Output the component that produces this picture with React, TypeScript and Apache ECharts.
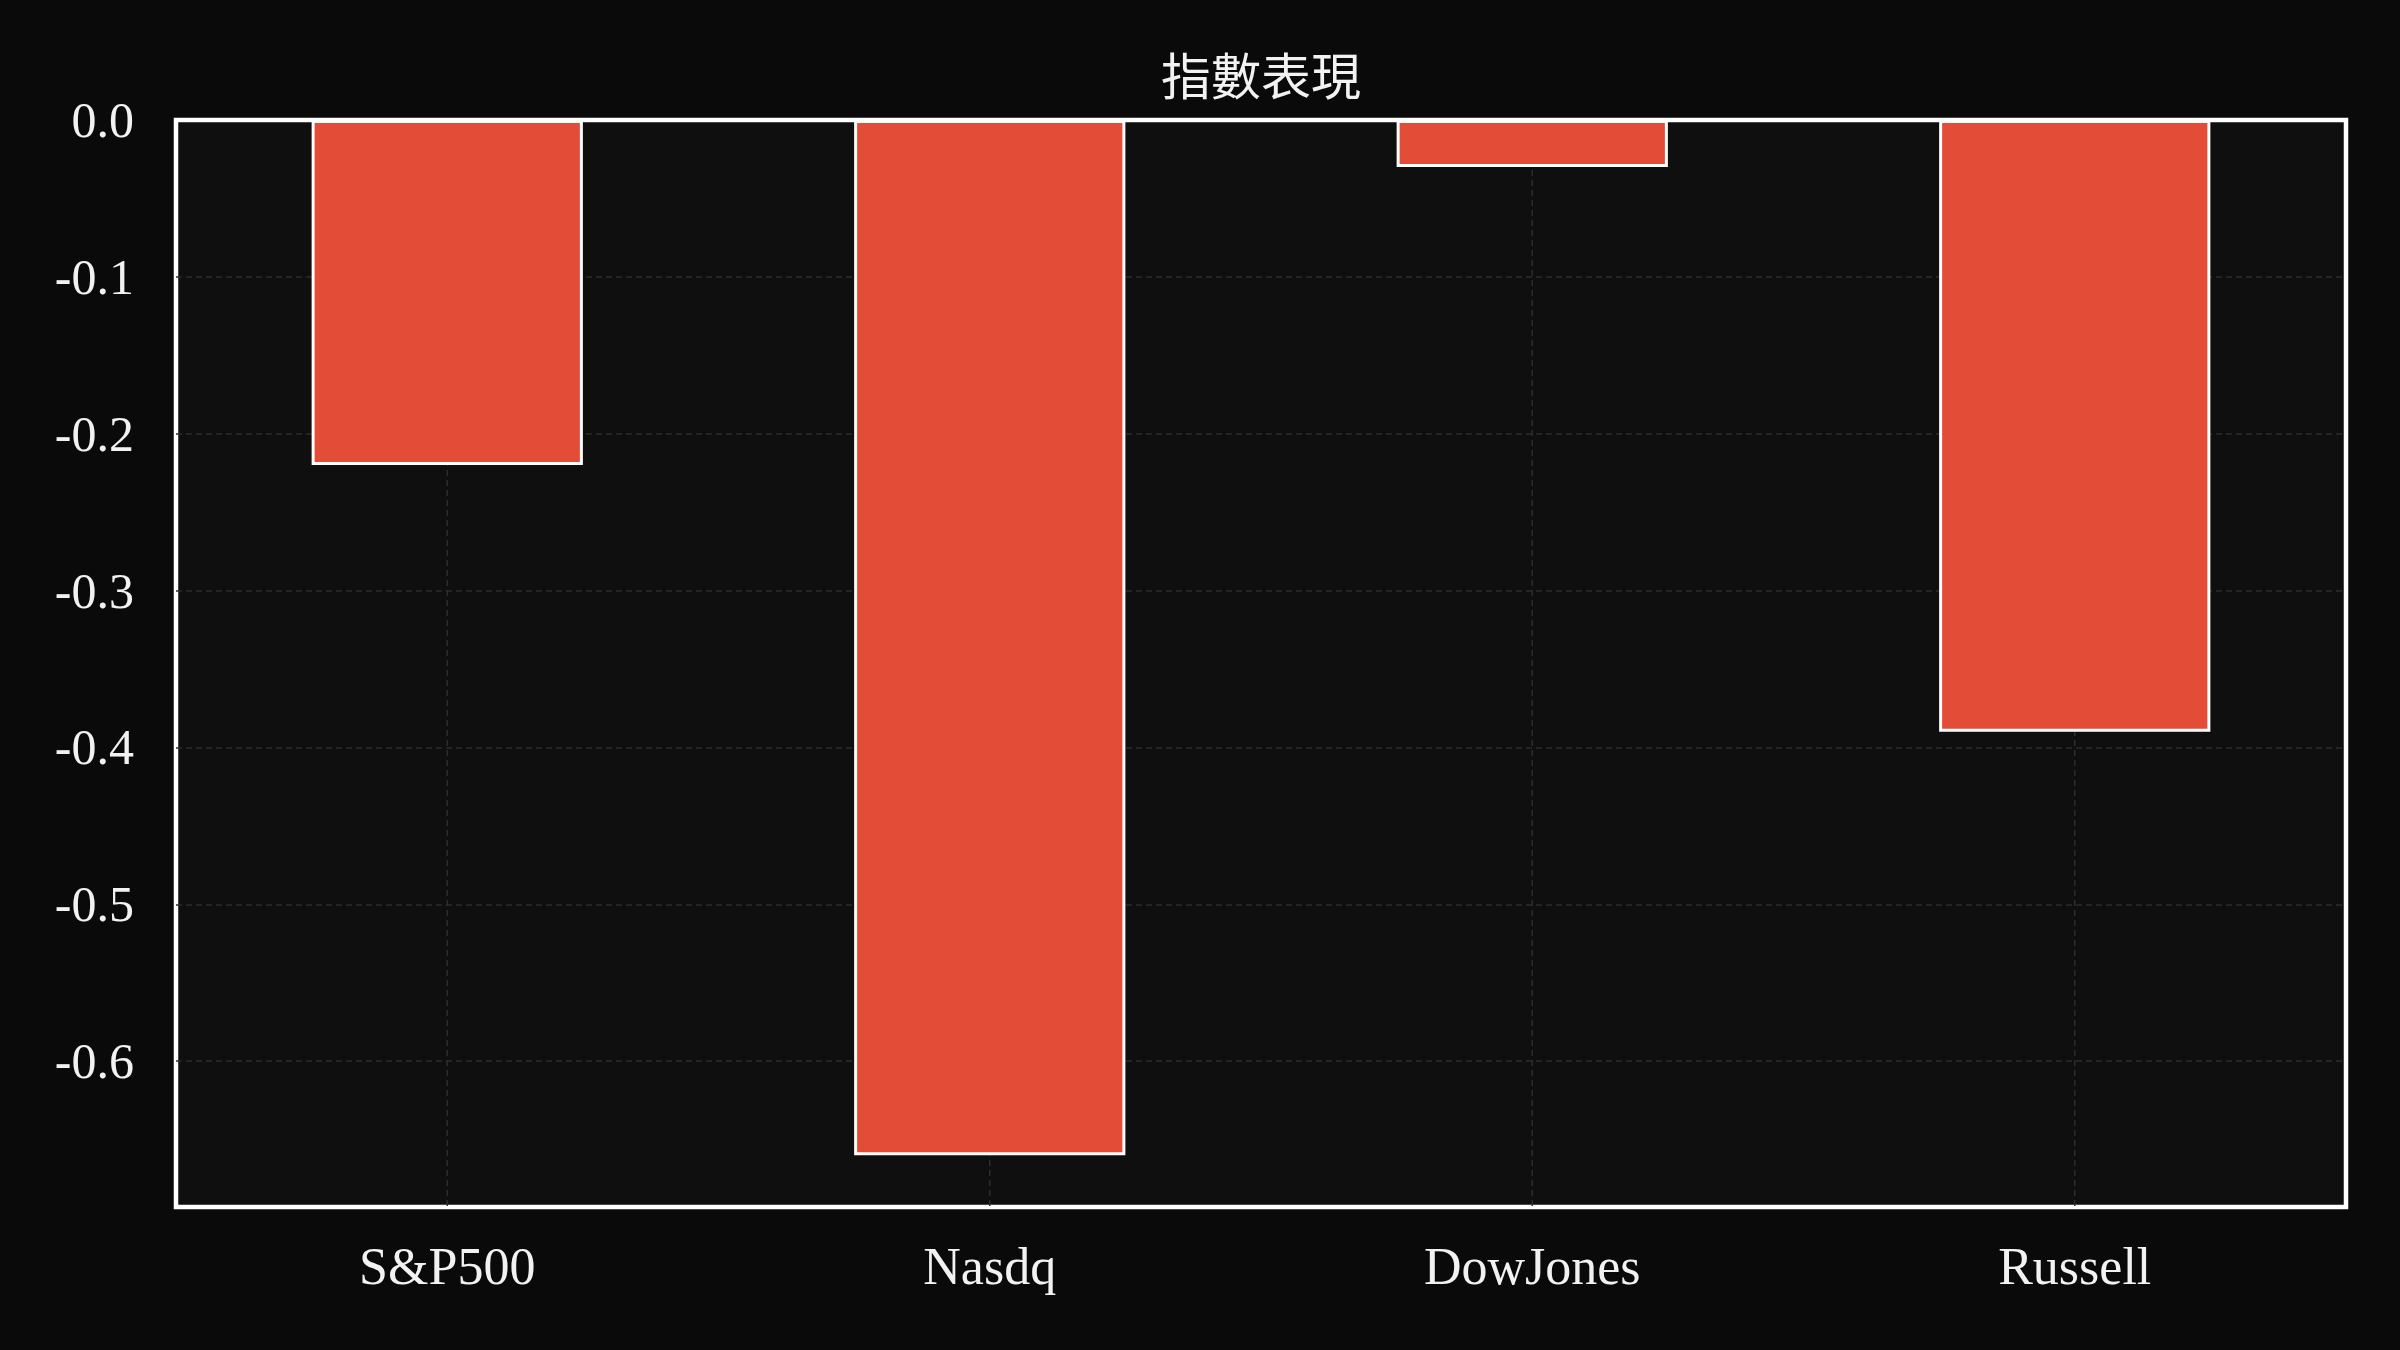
import React, { useEffect, useRef } from "react";
import * as echarts from "echarts";

const categories = ["S&P500", "Nasdq", "DowJones", "Russell"];
const values = [-0.22, -0.66, -0.03, -0.39];
const titleText = "指數表現";
const yMin = -0.693;
const yMax = 0;

export default function App() {
  const ref = useRef<HTMLDivElement>(null);
  useEffect(() => {
    document.body.style.margin = "0";
    document.body.style.background = "#0a0a0a";
    const chart = echarts.init(ref.current!, null, { renderer: "svg" });
    const serif = "'Liberation Serif', 'DejaVu Serif', 'Noto Sans CJK TC', serif";
    const gridLeft = 176, gridRight = 54, gridTop = 120, gridBottom = 143;
    const centerX = gridLeft + (2400 - gridLeft - gridRight) / 2;
    const gridColor = "#2c2c2c";
    chart.setOption({
      animation: false,
      backgroundColor: "#0a0a0a",
      graphic: [
        {
          type: "text",
          x: centerX,
          y: 73,
          style: {
            text: titleText,
            fill: "#f2f2f2",
            font: "50px 'Noto Sans CJK TC', serif",
            textAlign: "center",
            textVerticalAlign: "middle",
          },
        },
      ],
      grid: {
        left: gridLeft,
        right: gridRight,
        top: gridTop,
        bottom: gridBottom,
        show: true,
        backgroundColor: "#0f0f0f",
        borderColor: "#ffffff",
        borderWidth: 4.5,
      },
      xAxis: {
        type: "category",
        data: categories,
        boundaryGap: true,
        axisLine: { show: false },
        axisTick: { show: false },
        splitLine: { show: false },
        axisLabel: { color: "#f2f2f2", fontSize: 52, fontFamily: serif, margin: 33 },
      },
      yAxis: {
        type: "value",
        min: yMin,
        max: yMax,
        splitNumber: 7,
        axisLine: { show: false },
        axisTick: { show: false },
        splitLine: {
          show: true,
          showMinLine: false,
          showMaxLine: false,
          lineStyle: { color: gridColor, type: [6, 4], width: 1.5 },
        },
        axisLabel: {
          color: "#f2f2f2",
          fontSize: 50,
          fontFamily: serif,
          margin: 42,
          showMinLabel: false,
          formatter: (v: number) =>
            Math.abs(v * 10 - Math.round(v * 10)) > 1e-6 ? "" : (Math.round(v * 10) / 10).toFixed(1),
        },
      },
      series: [
        {
          type: "custom",
          z: 1,
          silent: true,
          data: categories.map((_, i) => i),
          renderItem: (params: any, api: any) => {
            const i = api.value(0);
            const p1 = api.coord([i, yMax]);
            const p2 = api.coord([i, yMin]);
            return {
              type: "line",
              shape: { x1: p1[0], y1: p1[1], x2: p2[0], y2: p2[1] },
              style: { stroke: gridColor, lineWidth: 1.5, lineDash: [6, 4] },
            };
          },
        },
        {
          type: "bar",
          data: values,
          z: 3,
          barWidth: "50%",
          itemStyle: { color: "#e34c36", borderColor: "#ffffff", borderWidth: 3 },
        },
      ],
    });
    return () => chart.dispose();
  }, []);
  return <div ref={ref} style={{ width: 2400, height: 1350 }} />;
}
